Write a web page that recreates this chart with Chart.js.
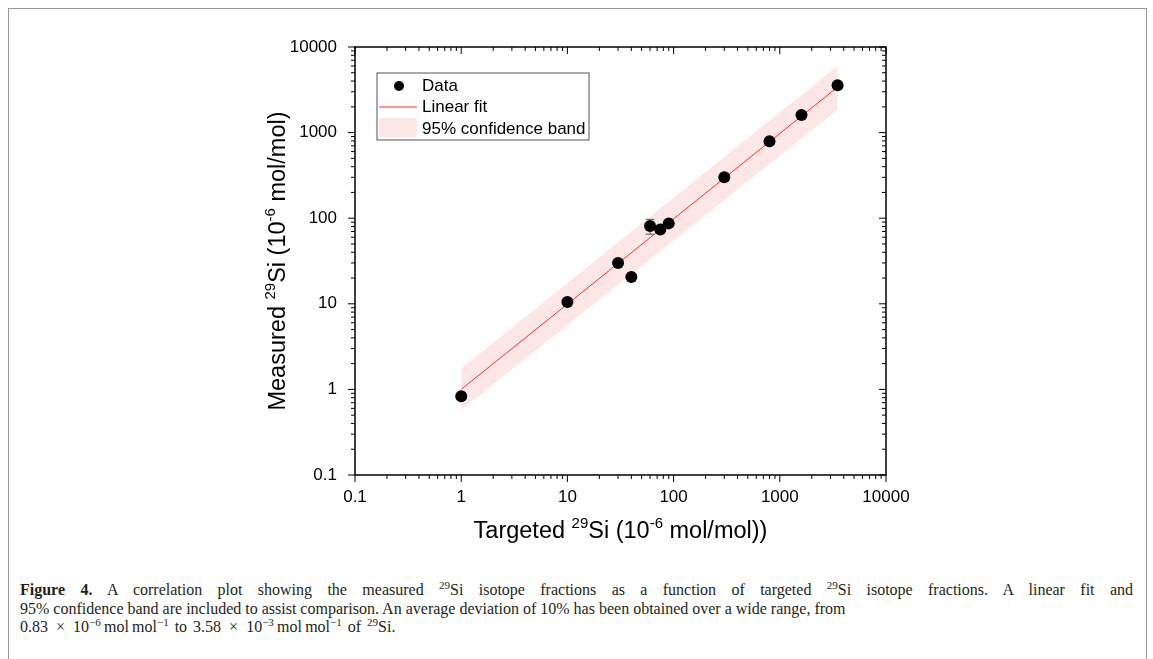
<!DOCTYPE html>
<html>
<head>
<meta charset="utf-8">
<title>Figure 4</title>
<script src="https://cdn.jsdelivr.net/npm/chart.js@4.4.0/dist/chart.umd.min.js"></script>
<style>
body { margin: 0; background: #fff; }
#frame { position: absolute; left: 8px; top: 8px; width: 1137px; height: 700px; border: 1px solid #9a9a9a; }
#wrap { position: absolute; left: 0; top: 0; width: 1153px; height: 565px; }
#caption { position: absolute; left: 20px; top: 581px; width: 1113px; font-family: "Liberation Serif", "Times New Roman", serif;
  font-size: 16px; line-height: 18.5px; color: #231f20; white-space: nowrap; }
#caption .l1 { text-align: justify; text-align-last: justify; }
#caption .l3 { word-spacing: 2px; }
#caption sup { font-size: 11px; line-height: 0; vertical-align: 6px; }
</style>
</head>
<body>
<div id="frame"></div>
<div id="wrap"><canvas id="chart"></canvas></div>
<div id="caption">
<div class="l1"><b>Figure 4.</b> A correlation plot showing the measured <sup>29</sup>Si isotope fractions as a function of targeted <sup>29</sup>Si isotope fractions. A linear fit and</div>
<div>95% confidence band are included to assist comparison. An average deviation of 10% has been obtained over a wide range, from</div>
<div class="l3">0.83&ensp;&times;&ensp;10<sup>&minus;6</sup>&thinsp;mol&thinsp;mol<sup>&minus;1</sup> to 3.58&ensp;&times;&ensp;10<sup>&minus;3</sup>&thinsp;mol&thinsp;mol<sup>&minus;1</sup> of <sup>29</sup>Si.</div>
</div>
<script>
// targeted vs measured 29Si (10^-6 mol/mol)
const targeted = [1, 10, 30, 40, 60, 75, 90, 300, 800, 1600, 3500];
const measured = [0.83, 10.5, 30, 20.6, 81, 74, 87, 300, 790, 1610, 3580];
const measuredErr = [0.06, 0.4, 1.2, 0.8, 16, 3, 3.5, 9, 22, 45, 90];

// linear fit and 95% band, end points
const fitX = [1, 3500];
const fitY = [1.0, 3400];
const bandUpper = [1.75, 6000];
const bandLower = [0.58, 1850];

const xTicks = [0.1, 1, 10, 100, 1000, 10000];
const yTicks = [0.1, 1, 10, 100, 1000, 10000];

const xTitle = [['Targeted ', 0], ['29', 1], ['Si (10', 0], ['-6', 1], [' mol/mol))', 0]];
const yTitle = [['Measured ', 0], ['29', 1], ['Si (10', 0], ['-6', 1], [' mol/mol)', 0]];
const legendLabels = ['Data', 'Linear fit', '95% confidence band'];

const FONT = '"Liberation Sans", Arial, sans-serif';
const bandColor = '#fde6e6';
const fitColor = '#ff3030';

function pts(xs, ys) {
  return xs.map((x, i) => ({ x: x, y: ys[i] }));
}

function drawRich(ctx, parts, size) {
  const sup = Math.round(size * 0.62);
  let w = 0;
  parts.forEach(p => {
    ctx.font = (p[1] ? sup : size) + 'px ' + FONT;
    w += ctx.measureText(p[0]).width;
  });
  let x = -w / 2;
  ctx.textBaseline = 'alphabetic';
  ctx.textAlign = 'left';
  parts.forEach(p => {
    ctx.font = (p[1] ? sup : size) + 'px ' + FONT;
    ctx.fillText(p[0], x, p[1] ? -size * 0.42 : 0);
    x += ctx.measureText(p[0]).width;
  });
}

const framePlugin = {
  id: 'framePlugin',
  beforeDatasetDraw(chart, args) {
    if (args.index !== 3) return;
    const ctx = chart.ctx, xs = chart.scales.x, ys = chart.scales.y;
    ctx.save();
    ctx.strokeStyle = '#5a5a5a';
    ctx.lineWidth = 1;
    targeted.forEach((t, i) => {
      const px = xs.getPixelForValue(t);
      const top = ys.getPixelForValue(measured[i] + measuredErr[i]);
      const bot = ys.getPixelForValue(measured[i] - measuredErr[i]);
      ctx.beginPath();
      ctx.moveTo(px, top); ctx.lineTo(px, bot);
      ctx.moveTo(px - 4.5, top); ctx.lineTo(px + 4.5, top);
      ctx.moveTo(px - 4.5, bot); ctx.lineTo(px + 4.5, bot);
      ctx.stroke();
    });
    ctx.restore();
  },
  afterDraw(chart) {
    const ctx = chart.ctx, a = chart.chartArea;
    const xs = chart.scales.x, ys = chart.scales.y;
    ctx.save();
    ctx.strokeStyle = '#000';
    ctx.lineWidth = 1.5;
    ctx.strokeRect(a.left, a.top, a.right - a.left, a.bottom - a.top);

    // ticks: outward on left/bottom, inward on top/right
    ctx.lineWidth = 1;
    ctx.beginPath();
    for (let e = -1; e <= 4; e++) {
      for (let m = 1; m < 10; m++) {
        const v = m * Math.pow(10, e);
        if (v > 10000) break;
        const len = m === 1 ? 7 : 4;
        const px = xs.getPixelForValue(v);
        const py = ys.getPixelForValue(v);
        ctx.moveTo(px, a.bottom); ctx.lineTo(px, a.bottom + len);
        ctx.moveTo(px, a.top); ctx.lineTo(px, a.top + len);
        ctx.moveTo(a.left, py); ctx.lineTo(a.left - len, py);
        ctx.moveTo(a.right, py); ctx.lineTo(a.right - len, py);
      }
    }
    ctx.stroke();

    // axis titles
    ctx.fillStyle = '#000';
    ctx.save();
    ctx.translate((a.left + a.right) / 2, a.bottom + 63);
    drawRich(ctx, xTitle, 23.5);
    ctx.restore();
    ctx.save();
    ctx.translate(a.left - 70, (a.top + a.bottom) / 2);
    ctx.rotate(-Math.PI / 2);
    drawRich(ctx, yTitle, 23.5);
    ctx.restore();

    // legend
    const lx = a.left + 22, ly = a.top + 26;
    ctx.strokeStyle = '#555';
    ctx.lineWidth = 1;
    ctx.strokeRect(lx, ly, 212, 67);
    ctx.fillStyle = '#000';
    ctx.beginPath();
    ctx.arc(lx + 22, ly + 13, 5, 0, Math.PI * 2);
    ctx.fill();
    ctx.strokeStyle = fitColor;
    ctx.beginPath();
    ctx.moveTo(lx + 2, ly + 34); ctx.lineTo(lx + 40, ly + 34);
    ctx.stroke();
    ctx.fillStyle = bandColor;
    ctx.fillRect(lx + 2, ly + 45, 38, 19);
    ctx.fillStyle = '#000';
    ctx.font = '17px ' + FONT;
    ctx.textBaseline = 'middle';
    ctx.textAlign = 'left';
    legendLabels.forEach((t, i) => ctx.fillText(t, lx + 45, ly + 13 + i * 21.5));
    ctx.restore();
  }
};

function tickLabel(v) {
  return String(v);
}

new Chart(document.getElementById('chart'), {
  type: 'line',
  data: {
    datasets: [
      { data: pts(fitX, bandUpper), borderWidth: 0, pointRadius: 0, fill: '+1',
        backgroundColor: bandColor, borderColor: 'rgba(0,0,0,0)', order: 4 },
      { data: pts(fitX, bandLower), borderWidth: 0, pointRadius: 0, fill: false,
        borderColor: 'rgba(0,0,0,0)', order: 3 },
      { data: pts(fitX, fitY), borderWidth: 1, pointRadius: 0, fill: false,
        borderColor: fitColor, order: 2 },
      { data: pts(targeted, measured), showLine: false, pointRadius: 6, pointHoverRadius: 6,
        backgroundColor: '#000', borderColor: '#000', borderWidth: 0, order: 1 }
    ]
  },
  options: {
    responsive: true,
    maintainAspectRatio: false,
    animation: false,
    events: [],
    layout: { padding: { left: 0, right: 267, top: 47, bottom: 0 } },
    plugins: { legend: { display: false }, tooltip: { enabled: false } },
    scales: {
      x: {
        type: 'logarithmic', min: 0.1, max: 10000, position: 'bottom',
        grid: { display: false }, border: { display: false },
        afterBuildTicks: s => { s.ticks = xTicks.map(v => ({ value: v })); },
        afterFit: s => { s.height = 90; },
        ticks: { color: '#000', font: { family: FONT, size: 17 }, padding: 4,
          maxRotation: 0, autoSkip: false, callback: tickLabel }
      },
      y: {
        type: 'logarithmic', min: 0.1, max: 10000,
        grid: { display: false }, border: { display: false },
        afterBuildTicks: s => { s.ticks = yTicks.map(v => ({ value: v })); },
        afterFit: s => { s.width = 355; },
        ticks: { color: '#000', font: { family: FONT, size: 17 }, padding: 10,
          autoSkip: false, callback: tickLabel }
      }
    }
  },
  plugins: [framePlugin]
});
</script>
</body>
</html>
